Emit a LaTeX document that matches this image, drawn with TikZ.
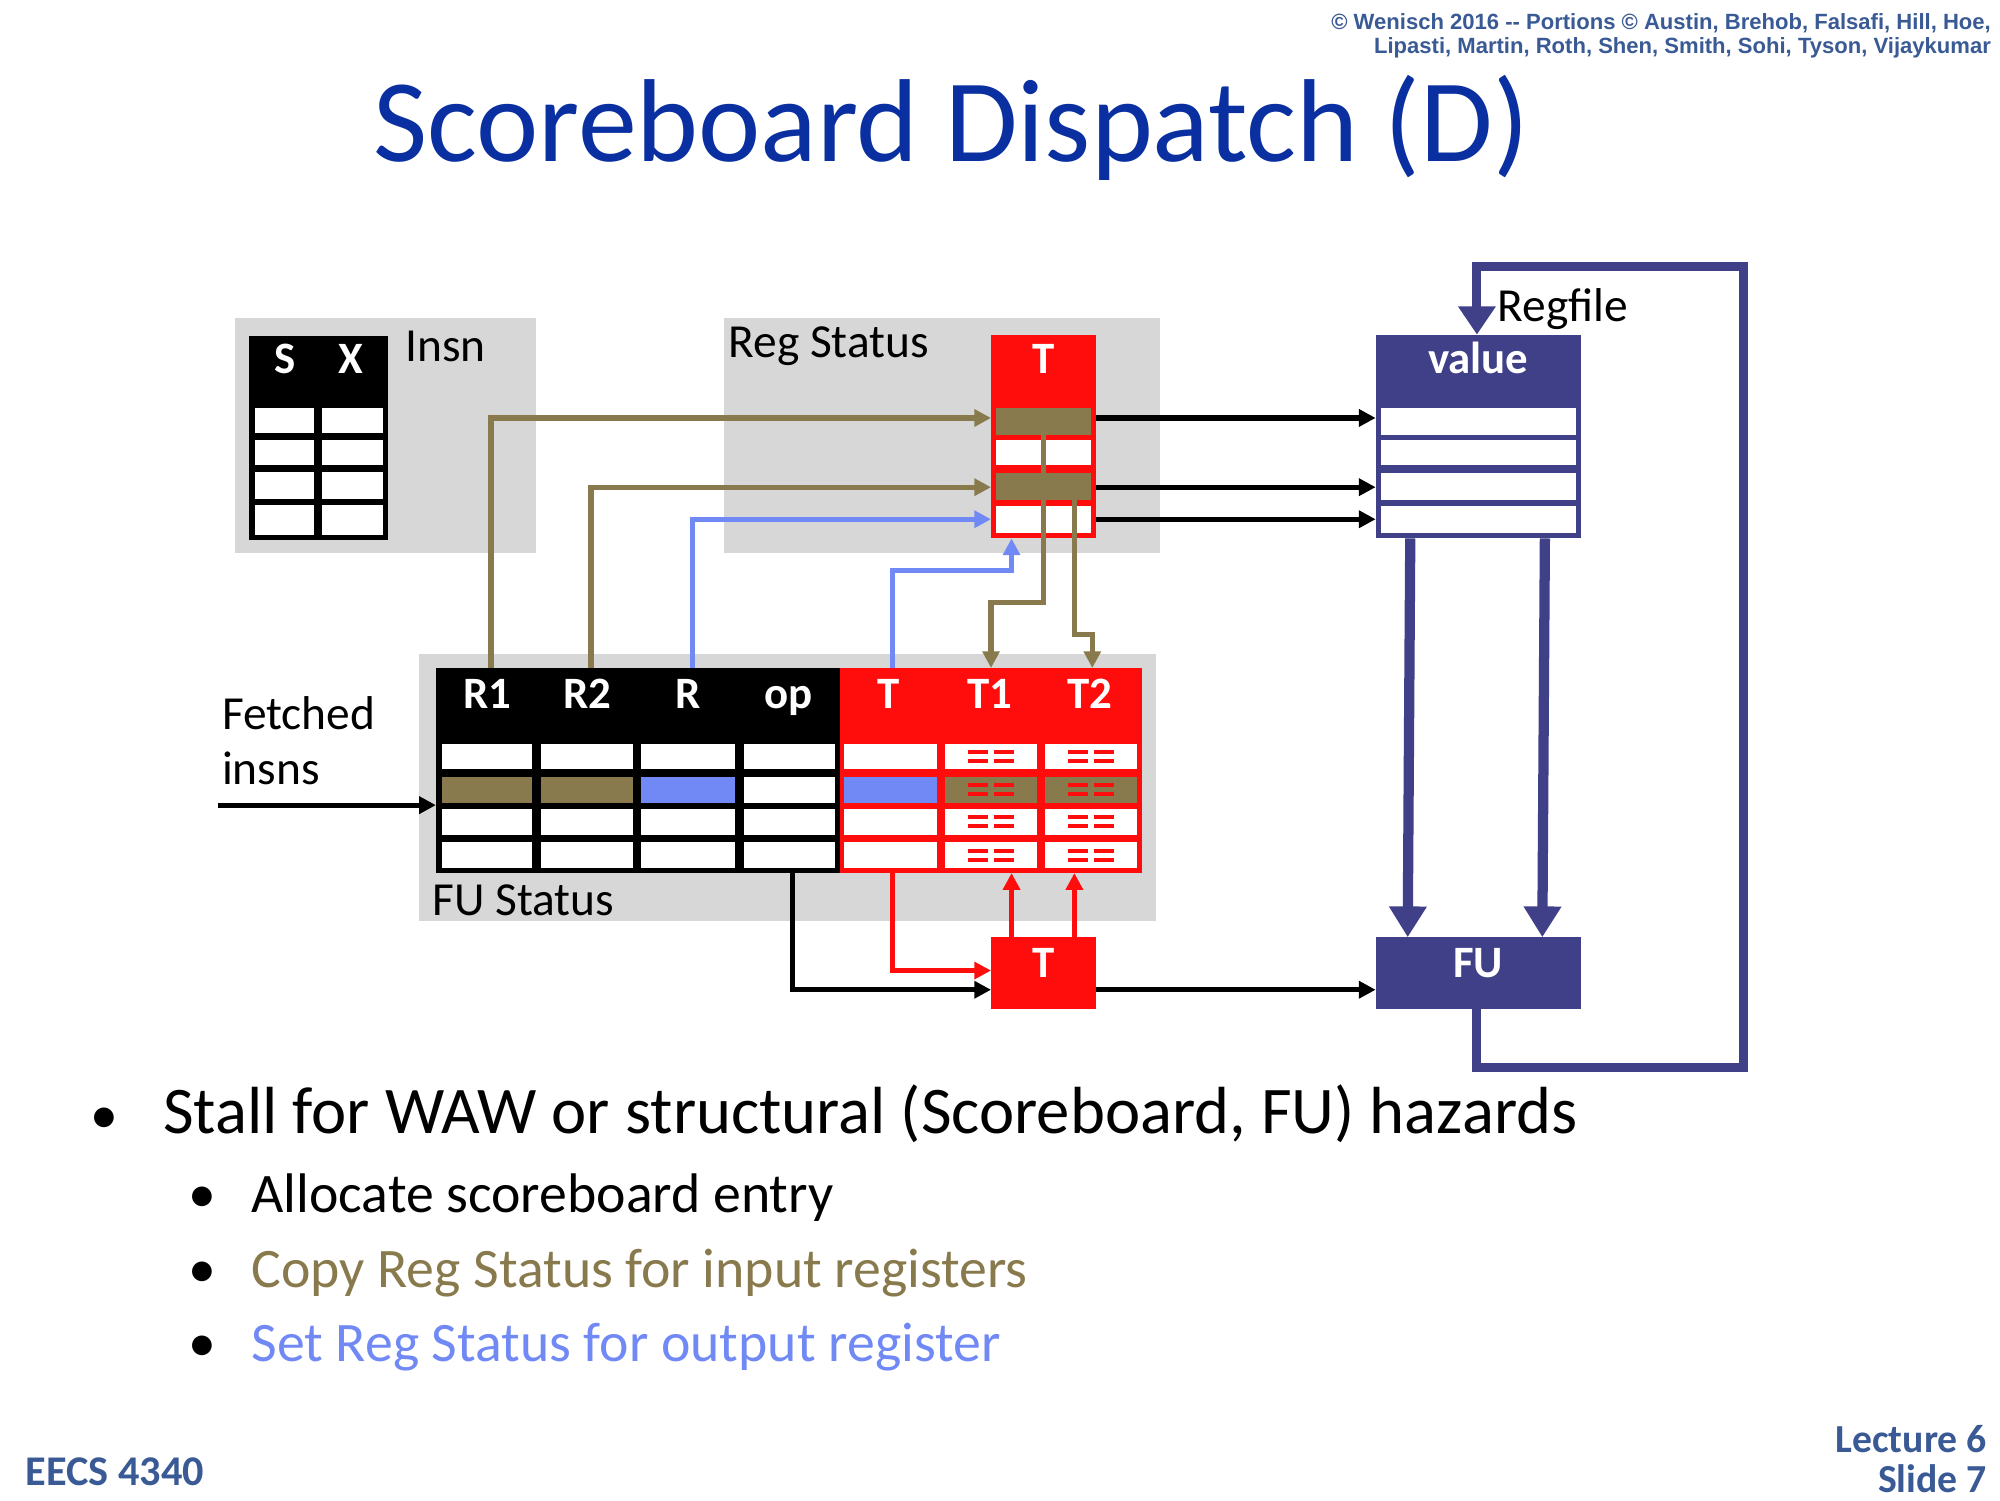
\documentclass[tikz,border=0pt]{standalone}
\usepackage{fontspec}
\setmainfont{Carlito}
\newfontfamily\arialf{Liberation Sans}
\usetikzlibrary{arrows.meta}
\definecolor{olv}{HTML}{887A4C}
\definecolor{blu}{HTML}{7089F5}
\definecolor{navy}{HTML}{404088}
\definecolor{ttl}{HTML}{0A2FA0}
\definecolor{gry}{HTML}{D7D7D7}
\definecolor{rd}{HTML}{FF0D0D}
\definecolor{foot}{HTML}{3A5A95}
\newcommand{\fs}[1]{\fontsize{#1}{#1}\selectfont}
\begin{document}
\begin{tikzpicture}[x=1pt,y=-1pt,
  tip/.style={-{Triangle[length=13pt,width=13pt]}},
  wire/.style={line width=4pt,tip},
  hdr/.style={text=white,font=\fs{35}\bfseries,inner sep=0pt,text height=0.68em,text depth=0.22em},
  lbl/.style={font=\fs{37},inner sep=0pt,anchor=west},
  bul/.style={font=\fs{43.5},inner sep=0pt,anchor=base west}]
\useasboundingbox (0,0) rectangle (1560,1170);
% copyright
\node[font=\arialf\bfseries\fs{17.2},text=foot,align=right,anchor=north east,inner sep=0pt] (copy) at (1553,10)
  {\textcopyright{} Wenisch 2016 -- Portions \textcopyright{} Austin, Brehob, Falsafi, Hill, Hoe,\\[2pt]Lipasti, Martin, Roth, Shen, Smith, Sohi, Tyson, Vijaykumar};
\node[font=\fs{92},text=ttl,inner sep=0pt] (title) at (742,100) {Scoreboard Dispatch (D)};
% gray panels
\fill[gry] (183,248) rectangle (418,431);
\fill[gry] (565,248) rectangle (905,431);
\fill[gry] (327,510) rectangle (902,718);
\node[lbl] (insnl) at (316,270) {Insn};
\node[lbl] (regsl) at (568,270) {Reg Status};
\node[lbl] (fusl) at (337,702) {FU Status};
\node[lbl,align=left] (fetch) at (173,578) {Fetched\\[6pt]insns};
% Insn table
\fill[black] (194,262) rectangle (303,421);
\node[hdr] (S) at (222,289) {S};
\node[hdr] (X) at (274,289) {X};
\foreach \a/\b in {318/338,343/363,368/389,394/417}
  \foreach \c/\d in {199/245,251/299} \fill[white] (\c,\a) rectangle (\d,\b);
% Reg status T column
\fill[rd] (773,261) rectangle (855,420);
\node[hdr] (RT) at (814,289) {T};
\fill[olv] (777,318) rectangle (851,339);
\fill[white] (777,343) rectangle (851,363);
\fill[olv] (777,369) rectangle (851,390);
\fill[white] (777,395) rectangle (851,416);
\coordinate (rs1) at (773,326); \coordinate (rs3) at (773,380); \coordinate (rs4) at (773,405);
% Regfile
\node[lbl] (rfl) at (1168,241) {Regfile};
\fill[navy] (1073,261) rectangle (1233,420);
\node[hdr] (val) at (1153,289) {value};
\foreach \a/\b in {318/339,343/363,369/390,395/416} \fill[white] (1077,\a) rectangle (1229,\b);
% FU box and T box
\fill[navy] (1073,731) rectangle (1233,787);
\node[hdr] (FU) at (1153,760) {FU};
\fill[rd] (773,731) rectangle (855,787);
\node[hdr] (BT) at (814,760) {T};
% FU status table
\fill[black] (340,521) rectangle (655,681);
\fill[rd] (655,521) rectangle (891,681);
\foreach \t/\x in {R1/380,R2/458,R/537,op/615,T/693,T1/772,T2/850}
  \node[hdr] (h\t) at (\x,550) {\t};
\foreach \a/\b in {580/600,606/626,631/651,657/677}{
  \foreach \c/\d in {345/415,422/494,500/573,580/651} \fill[white] (\c,\a) rectangle (\d,\b);
  \foreach \c/\d in {658/731,737/809,815/887} \fill[white] (\c,\a) rectangle (\d,\b);
}
\fill[olv] (345,606) rectangle (415,626);
\fill[olv] (422,606) rectangle (494,626);
\fill[blu] (500,606) rectangle (573,626);
\fill[blu] (658,606) rectangle (731,626);
\fill[olv] (737,606) rectangle (809,626);
\fill[olv] (815,606) rectangle (887,626);
\foreach \a in {590,616,641,667}
  \foreach \c in {773,851}{
    \fill[rd] (\c-18,\a-5) rectangle (\c-2,\a-2);
    \fill[rd] (\c+2,\a-5) rectangle (\c+18,\a-2);
    \fill[rd] (\c-18,\a+2) rectangle (\c-2,\a+5);
    \fill[rd] (\c+2,\a+2) rectangle (\c+18,\a+5);
  }
% connectors
\draw[wire] (170,628) -- (340,628);
\draw[wire,olv] (383,521) |- (rs1);
\draw[wire,olv] (461,521) |- (rs3);
\draw[wire,blu] (540,521) |- (rs4);
\draw[wire,blu] (696,521) -- (696,445) -| (789,420);
\draw[wire,olv] (814,330) -- (814,470) -| (773,521);
\draw[wire,olv] (838,384) -- (838,495) -| (852,521);
\draw[wire] (855,326) -- (1073,326);
\draw[wire] (855,380) -- (1073,380);
\draw[wire] (855,405) -- (1073,405);
\draw[wire] (618,681) -- (618,772) -- (773,772);
\draw[wire] (855,772) -- (1073,772);
\draw[wire,rd] (696,681) |- (773,757);
\draw[wire,rd] (789,731) -- (789,681);
\draw[wire,rd] (838,731) -- (838,681);
\draw[navy,line width=8pt,-{Triangle[length=24pt,width=28pt]}] (1100,420) -- (1098,731);
\draw[navy,line width=8pt,-{Triangle[length=24pt,width=28pt]}] (1205,420) -- (1203,731);
\draw[navy,line width=7pt,-{Triangle[length=22pt,width=28pt]}] (1152,787) -- (1152,833) -- (1360,833) -- (1360,208) -- (1152,208) -- (1152,261);
% bullets
\node[bul] (b0) at (70,884) {\textbullet};
\node[bul,font=\fs{52}] (b1) at (127,884) {Stall for WAW or structural (Scoreboard, FU) hazards};
\node[bul] (d1) at (147,946) {\textbullet};
\node[bul] (b2) at (196,946) {Allocate scoreboard entry};
\node[bul] (d2) at (147,1004) {\textbullet};
\node[bul,text=olv] (b3) at (196,1004) {Copy Reg Status for input registers};
\node[bul] (d3) at (147,1062) {\textbullet};
\node[bul,text=blu] (b4) at (196,1062) {Set Reg Status for output register};
% footer
\node[font=\bfseries\fs{33},text=foot,anchor=west,inner sep=0pt] (eecs) at (20,1148) {EECS 4340};
\node[font=\bfseries\fs{31},text=foot,align=right,anchor=east,inner sep=0pt] (lec) at (1550,1138) {Lecture 6\\[0pt]Slide 7};
\end{tikzpicture}
\end{document}
